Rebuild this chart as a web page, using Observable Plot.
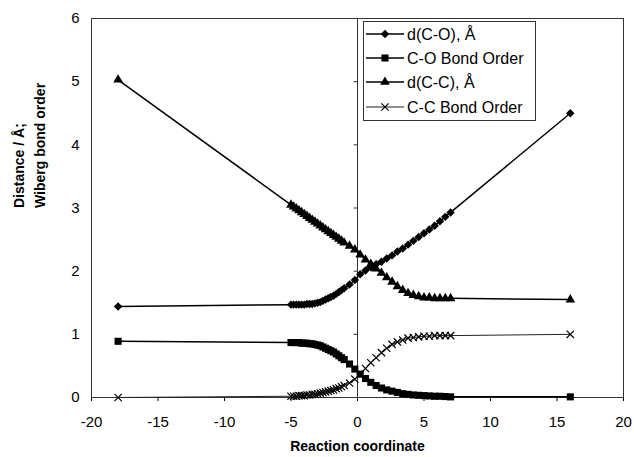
<!DOCTYPE html>
<html><head><meta charset="utf-8">
<script src="https://cdn.jsdelivr.net/npm/d3@7"></script>
<script src="https://cdn.jsdelivr.net/npm/@observablehq/plot@0.6"></script>
<style>body{margin:0;background:#fff}</style>
</head><body><div id="chart"></div>
<script>
const coord = [-18, -5,-4.8,-4.6,-4.4,-4.2,-4,-3.8,-3.6,-3.4,-3.2,-3,-2.8,-2.6,-2.4,-2.2,-2,-1.8,-1.6,-1.4,-1.2,-1,
  -0.6,-0.2,0.2,0.6,1,1.4,1.8,2.2,2.6,3,3.4,3.8,4.2,4.6,5,5.4,5.8,6.2,6.6,7, 16];
const dCO = [1.44, 1.47,1.47,1.47,1.47,1.47,1.47,1.48,1.48,1.48,1.49,1.50,1.51,1.53,1.55,1.57,1.59,1.61,1.64,1.67,1.70,1.73,
  1.79,1.86,1.95,2.01,2.06,2.11,2.15,2.20,2.25,2.31,2.36,2.42,2.48,2.54,2.60,2.66,2.72,2.79,2.86,2.93, 4.50];
const boCO = [0.89, 0.87,0.87,0.87,0.87,0.86,0.86,0.86,0.85,0.85,0.84,0.83,0.82,0.80,0.78,0.76,0.74,0.72,0.69,0.66,0.63,0.60,
  0.53,0.45,0.37,0.30,0.24,0.19,0.15,0.12,0.10,0.08,0.06,0.05,0.04,0.035,0.03,0.025,0.02,0.02,0.015,0.01, 0.01];
const dCC = [5.03, 3.05,3.02,2.99,2.96,2.93,2.90,2.87,2.84,2.81,2.78,2.75,2.72,2.69,2.66,2.63,2.60,2.57,2.54,2.51,2.48,2.45,
  2.40,2.34,2.26,2.18,2.11,2.04,1.97,1.90,1.83,1.76,1.70,1.65,1.62,1.60,1.58,1.58,1.57,1.57,1.57,1.57, 1.55];
const boCC = [0.00, 0.02,0.02,0.02,0.03,0.03,0.03,0.04,0.04,0.05,0.05,0.06,0.07,0.08,0.09,0.10,0.11,0.12,0.14,0.15,0.17,0.19,
  0.23,0.29,0.37,0.46,0.55,0.63,0.71,0.78,0.84,0.88,0.91,0.94,0.95,0.96,0.97,0.97,0.98,0.98,0.98,0.98, 1.00];
const xTicks = [-20,-15,-10,-5,0,5,10,15,20];
const yTicks = [0,1,2,3,4,5,6];
const seriesNames = ["d(C-O), Å", "C-O Bond Order", "d(C-C), Å", "C-C Bond Order"];
const xTitle = "Reaction coordinate";
const yTitle = "Distance / Å;\nWiberg bond order";

const seriesVals = [dCO, boCO, dCC, boCC];
const styles = [
  {symbol: "diamond2", r: 3.8, fill: "#000", stroke: "none", lw: 1.5, lc: "#000"},
  {symbol: "square", r: 4.0, fill: "#000", stroke: "none", lw: 1.5, lc: "#000"},
  {symbol: "triangle", r: 3.6, fill: "#000", stroke: "none", lw: 1.5, lc: "#000"},
  {symbol: "times", r: 3.4, fill: "none", stroke: "#000", lw: 1, lc: "#222"}
];
const rows = seriesVals.map(vals => coord.map((x, i) => ({x, y: vals[i]})));
const fmt = d => String(d);

const marks = [
  Plot.frame({stroke: "#333"}),
  Plot.ruleX([0], {stroke: "#333"}),
  Plot.ruleY(yTicks, {y: d => d, x1: -0.25, x2: 0, stroke: "#333"}),
  Plot.axisX({ticks: xTicks, tickFormat: fmt, tickSize: 4, tickPadding: 15, label: null, fontSize: 15}),
  Plot.axisY({ticks: yTicks, tickFormat: fmt, tickSize: 0, tickPadding: 12, label: null, fontSize: 15}),
];
rows.forEach((data, k) => {
  const s = styles[k];
  marks.push(Plot.line(data, {x: "x", y: "y", stroke: s.lc, strokeWidth: s.lw}));
});
rows.forEach((data, k) => {
  const s = styles[k];
  marks.push(Plot.dot(data, {x: "x", y: "y", symbol: s.symbol, r: s.r, fill: s.fill, stroke: s.stroke, strokeWidth: 1.2}));
});
marks.push(Plot.text([xTitle], {frameAnchor: "bottom", dy: 53, fontWeight: "bold", fontSize: 14}));
marks.push(Plot.text([yTitle], {frameAnchor: "left", dx: -64, rotate: -90, fontWeight: "bold", fontSize: 14, lineHeight: 1.5}));

const svg = Plot.plot({
  width: 634, height: 457,
  marginLeft: 91, marginRight: 11, marginTop: 18, marginBottom: 60,
  style: {fontFamily: "'Liberation Sans', Arial, sans-serif", fontSize: "15px", background: "#fff", color: "#000"},
  x: {domain: [-20, 20]},
  y: {domain: [0, 6]},
  marks
});
document.getElementById("chart").append(svg);

// legend inside the plot area
const g = d3.select(svg).append("g")
  .attr("font-family", "'Liberation Sans', Arial, sans-serif")
  .attr("font-size", 16)
  .attr("text-anchor", "start");
g.append("rect").attr("x", 363.5).attr("y", 21.5).attr("width", 172).attr("height", 99)
  .style("fill", "#fff").style("stroke", "#333").style("stroke-width", "1px");
const rowY = [34, 58, 82, 107];
seriesNames.forEach((name, k) => {
  const s = styles[k], y = rowY[k];
  g.append("line").attr("x1", 366).attr("x2", 404).attr("y1", y).attr("y2", y)
    .attr("stroke", s.lc).attr("stroke-width", s.lw);
  const sym = {diamond2: d3.symbolDiamond2, square: d3.symbolSquare, triangle: d3.symbolTriangle, times: d3.symbolTimes}[s.symbol];
  g.append("path").attr("transform", `translate(385,${y})`)
    .attr("d", d3.symbol(sym, Math.PI * s.r * s.r)())
    .attr("fill", s.fill).attr("stroke", s.stroke).attr("stroke-width", 1.2);
  g.append("text").attr("x", 407).attr("y", y).attr("dy", "0.35em").attr("text-anchor", "start").attr("fill", "#000").text(name);
});
</script>
</body></html>
